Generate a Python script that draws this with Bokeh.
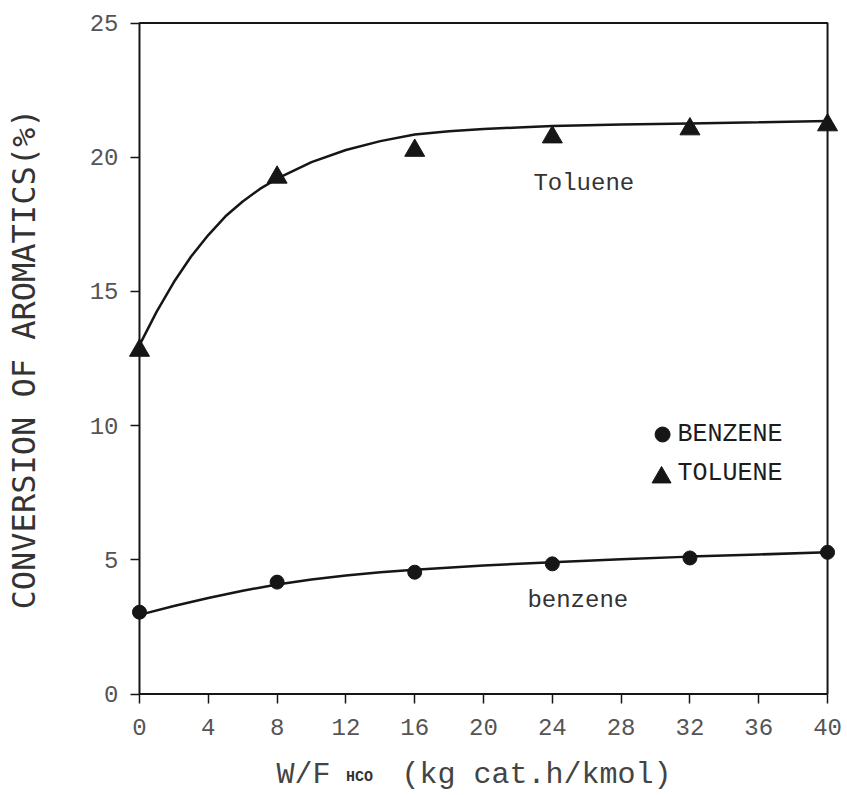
from bokeh.plotting import figure
from bokeh.models import Range1d, BoxAnnotation, Label, FixedTicker
from bokeh.embed import file_html
from bokeh.resources import INLINE

# Measured conversions (%) against space time W/F_HCO (kg cat.h/kmol)
wf = [0, 8, 16, 24, 32, 40]
benzene_conv = [3.05, 4.17, 4.54, 4.85, 5.07, 5.28]
toluene_conv = [12.8, 19.25, 20.25, 20.75, 21.05, 21.2]

# Smoothed trend curves through the measurements
toluene_fit_x = [0, 1, 2, 3, 4, 5, 6, 7, 8, 10, 12, 14, 16, 18, 20, 22, 24, 28, 32, 36, 40]
toluene_fit_y = [13.0, 14.25, 15.35, 16.3, 17.1, 17.8, 18.35, 18.82, 19.2, 19.82,
                 20.27, 20.6, 20.85, 20.97, 21.05, 21.11, 21.16, 21.22, 21.26, 21.3, 21.35]
benzene_fit_x = [0, 2, 4, 6, 8, 10, 12, 14, 16, 20, 24, 28, 32, 36, 40]
benzene_fit_y = [2.95, 3.28, 3.58, 3.85, 4.08, 4.27, 4.42, 4.54, 4.63, 4.79,
                 4.91, 5.02, 5.12, 5.2, 5.28]

x_ticks = [0, 4, 8, 12, 16, 20, 24, 28, 32, 36, 40]
y_ticks = [0, 5, 10, 15, 20, 25]

INK = "#161616"
MONO = "Liberation Mono"

# The frame spans the whole canvas; the axes sit at x=0 / y=0 so that
# the edge markers are not cut by the frame.
p = figure(
    frame_width=847, frame_height=795,
    x_range=Range1d(-8.08, 41.16), y_range=Range1d(-3.78, 25.84),
    min_border=0,
    output_backend="svg", toolbar_location=None,
)
p.xgrid.visible = False
p.ygrid.visible = False
p.outline_line_color = None
p.background_fill_color = "white"
p.border_fill_color = "white"

# Closed box around the 0-40 / 0-25 data area
p.add_layout(BoxAnnotation(left=0, right=40, bottom=0, top=25,
                           fill_color=None, fill_alpha=0,
                           line_color=INK, line_alpha=1, line_width=2))

for ax, ticks, bounds in ((p.xaxis, x_ticks, (0, 40)), (p.yaxis, y_ticks, (0, 25))):
    ax.fixed_location = 0
    ax.bounds = bounds
    ax.ticker = FixedTicker(ticks=ticks)
    ax.axis_line_color = None
    ax.major_tick_out = 9
    ax.major_tick_in = 0
    ax.minor_tick_out = 0
    ax.minor_tick_in = 0
    ax.major_tick_line_color = INK
    ax.major_tick_line_width = 1.5
    ax.major_label_text_font = MONO
    ax.major_label_text_font_size = "24px"
    ax.major_label_text_color = "#555555"
    ax.major_label_standoff = 12
p.xaxis.major_label_standoff = 16

p.yaxis.axis_label = "CONVERSION OF AROMATICS(%)"
p.yaxis.axis_label_text_font = "DejaVu Sans Mono"
p.yaxis.axis_label_text_font_size = "32px"
p.yaxis.axis_label_text_font_style = "normal"
p.yaxis.axis_label_text_color = "#333333"
p.yaxis.axis_label_standoff = 44

# Trend curves and measured points
p.line(toluene_fit_x, toluene_fit_y, line_width=2.5, line_color=INK)
p.line(benzene_fit_x, benzene_fit_y, line_width=2.5, line_color=INK)
p.scatter(wf, toluene_conv, marker="triangle", size=20, color=INK)
p.scatter(wf, benzene_conv, marker="circle", size=14, color=INK)

# Curve names
p.add_layout(Label(x=22.9, y=19.02, text="Toluene", text_baseline="middle",
                   text_font=MONO, text_font_size="24px", text_color="#333333"))
p.add_layout(Label(x=22.55, y=3.48, text="benzene", text_baseline="middle",
                   text_font=MONO, text_font_size="24px", text_color="#333333"))

# Key
p.scatter([30.41], [9.67], marker="circle", size=15, color=INK)
p.scatter([30.35], [8.07], marker="triangle", size=19, color=INK)
p.add_layout(Label(x=31.28, y=9.67, text="BENZENE", text_baseline="middle",
                   text_font=MONO, text_font_size="25px", text_color="#1c1c1c"))
p.add_layout(Label(x=31.28, y=8.2, text="TOLUENE", text_baseline="middle",
                   text_font=MONO, text_font_size="25px", text_color="#1c1c1c"))

# x-axis title with subscript
p.add_layout(Label(x=7.97, y=-3.0, text="W/F", text_baseline="alphabetic",
                   text_font=MONO, text_font_size="30px", text_color="#444444"))
p.add_layout(Label(x=12.0, y=-3.11, text="HCO", text_baseline="alphabetic",
                   text_font=MONO, text_font_size="15px", text_font_style="bold",
                   text_color="#333333"))
p.add_layout(Label(x=15.23, y=-3.0, text="(kg cat.h/kmol)", text_baseline="alphabetic",
                   text_font=MONO, text_font_size="30px", text_color="#444444"))

open("out.html", "w").write(file_html(p, INLINE))
